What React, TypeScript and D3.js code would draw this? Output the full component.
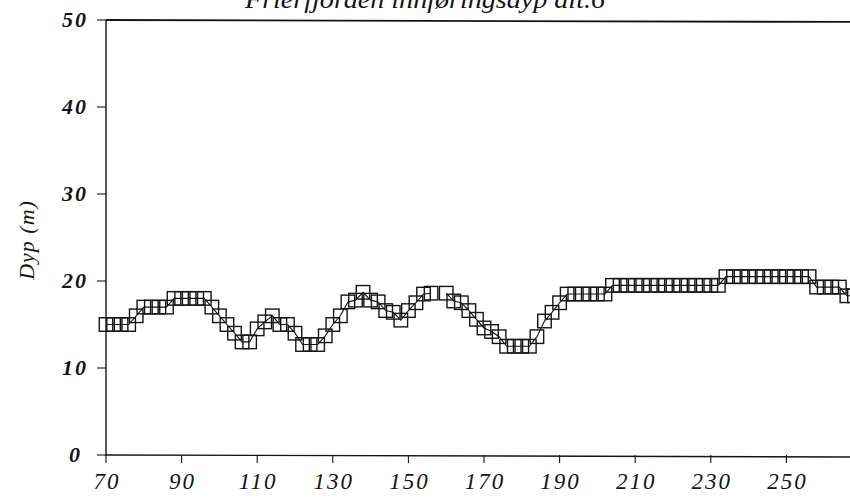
import React from "react";
import * as d3 from "d3";

const TITLE = "Frierfjorden  innføringsdyp  alt.6";
const Y_LABEL = "Dyp  (m)";
const xTicks = [70, 90, 110, 130, 150, 170, 190, 210, 230, 250];
const yTicks = [0, 10, 20, 30, 40, 50];

const distance = [
  70, 72, 74, 76, 78, 80, 82, 84, 86, 88, 90, 92, 94, 96, 98, 100, 102, 104, 106, 108,
  110, 112, 114, 116, 118, 120, 122, 124, 126, 128, 130, 132, 134, 136, 138, 140, 142, 144, 146, 148,
  150, 152, 154, 156, 158, 160, 162, 164, 166, 168, 170, 172, 174, 176, 178, 180, 182, 184, 186, 188,
  190, 192, 194, 196, 198, 200, 202, 204, 206, 208, 210, 212, 214, 216, 218, 220, 222, 224, 226, 228,
  230, 232, 234, 236, 238, 240, 242, 244, 246, 248, 250, 252, 254, 256, 258, 260, 262, 264, 266, 268,
];
const depth: (number | null)[] = [
  15, 15, 15, 15, 16, 17, 17, 17, 17, 18, 18, 18, 18, 18, 17, 16, 15, 14, 13, 13,
  14.5, 15.3, 16, 15, 15, 14, 12.7, 12.7, 12.7, 13.7, 15, 16, 17.6, 17.8, 18.7, 17.8, 17.6, 16.6, 16.4, 15.5,
  16.6, 17.5, 18.5, 18.6, null, 18.6, 17.7, 17.5, 16.6, 15.6, 14.6, 14.2, 13.6, 12.5, 12.5, 12.5, 12.5, 13.6, 15.4, 16.4,
  17.5, 18.5, 18.5, 18.5, 18.5, 18.5, 18.5, 19.5, 19.5, 19.5, 19.5, 19.5, 19.5, 19.5, 19.5, 19.5, 19.5, 19.5, 19.5, 19.5,
  19.5, 19.5, 20.5, 20.5, 20.5, 20.5, 20.5, 20.5, 20.5, 20.5, 20.5, 20.5, 20.5, 20.5, 19.3, 19.3, 19.3, 19.3, 18.3, 18.3,
];

const W = 850;
const H = 502;
const FONT = "'Liberation Serif', 'DejaVu Serif', serif";
const INK = "#141414";

export default function App() {
  const x = d3.scaleLinear().domain([70, 270]).range([106, 862]);
  const y = d3.scaleLinear().domain([0, 50]).range([455, 20]);
  const pts = distance.map((d, i) => ({ d, v: depth[i] }));
  const line = d3
    .line<{ d: number; v: number | null }>()
    .defined((p) => p.v !== null)
    .x((p) => x(p.d))
    .y((p) => y(p.v as number));
  const S = 13.5;

  return (
    <svg
      width={W}
      height={H}
      style={{ position: "absolute", left: 0, top: 0, background: "#fff" }}
    >
      <rect x={0} y={0} width={W} height={H} fill="#fff" />
      <text
        x={425}
        y={8}
        textAnchor="middle"
        fontFamily={FONT}
        fontStyle="italic"
        fontSize={26}
        textLength={360}
        lengthAdjust="spacingAndGlyphs"
        fill={INK}
      >
        {TITLE}
      </text>
      {/* frame */}
      <line x1={x(70)} x2={x(270)} y1={y(50)} y2={y(50) + 2} stroke={INK} strokeWidth={1.8} />
      <line x1={x(70)} x2={x(270)} y1={y(0)} y2={y(0) + 2} stroke={INK} strokeWidth={1.4} />
      <line x1={x(70)} x2={x(70)} y1={y(50)} y2={y(0) + 1} stroke={INK} strokeWidth={1.4} />
      {/* y ticks */}
      {yTicks.map((t) => (
        <g key={"y" + t}>
          <line x1={x(70) - 9} x2={x(70)} y1={y(t)} y2={y(t)} stroke={INK} strokeWidth={1.1} />
          <text
            x={t === 0 ? 82 : 88}
            y={y(t) + 7}
            textAnchor="end"
            fontFamily={FONT}
            fontStyle="italic"
            fontWeight="bold"
            fontSize={22}
            letterSpacing={2}
            fill={INK}
          >
            {t}
          </text>
        </g>
      ))}
      {/* x ticks */}
      {xTicks.map((t) => (
        <g key={"x" + t}>
          <line x1={x(t)} x2={x(t)} y1={y(0)} y2={y(0) + 8} stroke={INK} strokeWidth={1.1} />
          <text
            x={x(t) + 1}
            y={y(0) + 34}
            textAnchor="middle"
            fontFamily={FONT}
            fontStyle="italic"
            fontSize={23}
            letterSpacing={2}
            fill={INK}
          >
            {t}
          </text>
        </g>
      ))}
      <text
        transform={`translate(34, ${240}) rotate(-90)`}
        textAnchor="middle"
        fontFamily={FONT}
        fontStyle="italic"
        fontSize={22}
        letterSpacing={1}
        fill={INK}
      >
        {Y_LABEL}
      </text>
      {/* data */}
      <path d={line(pts) || ""} fill="none" stroke={INK} strokeWidth={1.1} />
      {pts
        .filter((p) => p.v !== null)
        .map((p, i) => (
          <rect
            key={i}
            x={x(p.d) - S / 2}
            y={y(p.v as number) - S / 2}
            width={S}
            height={S}
            fill="none"
            stroke={INK}
            strokeWidth={1.4}
          />
        ))}
    </svg>
  );
}
